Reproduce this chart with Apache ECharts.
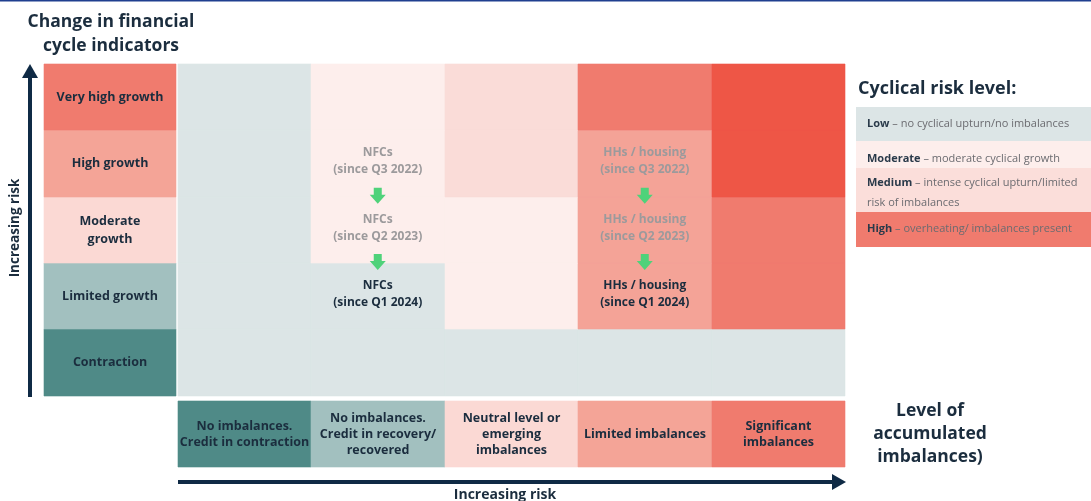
<!DOCTYPE html>
<html>
<head>
<meta charset="utf-8">
<style>html,body{margin:0;padding:0;background:#fff;}#chart{width:1091px;height:501px;}</style>
<script src="https://cdn.jsdelivr.net/npm/echarts@6/dist/echarts.min.js"></script>
</head>
<body>
<div id="chart"></div>
<script>
// ---- data ----
const imbalanceLevels = ['No imbalances.\nCredit in contraction', 'No imbalances.\nCredit in recovery/\nrecovered', 'Neutral level or\nemerging\nimbalances', 'Limited imbalances', 'Significant\nimbalances'];
const cycleLevels = ['Contraction', 'Limited growth', 'Moderate\ngrowth', 'High growth', 'Very high growth']; // bottom to top
// risk shade per cell: rows = cycleLevels (bottom->top), cols = imbalanceLevels
const riskContraction = [0, 0, 0, 0, 0];
const riskLimited     = [0, 0, 1, 3, 4];
const riskModerate    = [0, 1, 1, 3, 4];
const riskHigh        = [0, 1, 2, 3, 5];
const riskVeryHigh    = [0, 1, 2, 4, 5];
const riskRows = [riskContraction, riskLimited, riskModerate, riskHigh, riskVeryHigh];
const shadeColors = ['#dce5e6', '#fdeeec', '#fadcd8', '#f4a397', '#f07b6e', '#ee5646'];
const labelColors = ['#4f8a87', '#a2c0bf', '#fbd9d4', '#f4a497', '#f07b6e'];
const nfcPath = ['NFCs\n(since Q3 2022)', 'NFCs\n(since Q2 2023)', 'NFCs\n(since Q1 2024)'];
const nfcRows = [3, 2, 1];
const nfcCol = 1;
const hhPath = ['HHs / housing\n(since Q3 2022)', 'HHs / housing\n(since Q2 2023)', 'HHs / housing\n(since Q1 2024)'];
const hhRows = [3, 2, 1];
const hhCol = 3;
const riskLegendNames = ['Low', 'Moderate', 'Medium', 'High'];
const riskLegendDesc = ['no cyclical upturn/no imbalances', 'moderate cyclical growth', 'intense cyclical upturn/limited\nrisk of imbalances', 'overheating/ imbalances present'];
const riskLegendColors = ['#dce5e6', '#fdeeec', '#fbdeda', '#f07b6e'];

// ---- build ----
const FONT = '"Open Sans", sans-serif';
const DARK = '#1b2d3e';
const cellData = [];
riskRows.forEach((row, y) => row.forEach((lvl, x) => cellData.push([x, y, lvl])));
const rowLabelData = cycleLevels.map((t, i) => [-1, i, i]);
const colLabelData = imbalanceLevels.map((t, i) => [i, -1.075, i]);
const pathData = [];
nfcPath.forEach((t, i) => pathData.push([nfcCol + 0.5, nfcRows[i] + 0.5, i, 0]));
hhPath.forEach((t, i) => pathData.push([hhCol + 0.5, hhRows[i] + 0.5, i, 1]));
const arrowData = [];
for (let i = 0; i < 2; i++) {
  arrowData.push([nfcCol + 0.5, nfcRows[i]]);
  arrowData.push([hhCol + 0.5, hhRows[i]]);
}

function rectFrom(api, x0, y0, x1, y1) {
  const a = api.coord([x0, y1]);
  const b = api.coord([x1, y0]);
  const x = Math.round(a[0]), y = Math.round(a[1]);
  return { x: x, y: y, width: Math.round(b[0]) - x, height: Math.round(b[1]) - y };
}

const chart = echarts.init(document.getElementById('chart'), null, { renderer: 'canvas' });
const legendGraphics = [];
const legendTops = [107, 141, 168, 212];
const legendHeights = [34, 27, 44, 35];
const legendTextY = [124, 159, 193, 229];
riskLegendNames.forEach((n, i) => {
  legendGraphics.push({
    type: 'rect', left: 856, top: legendTops[i],
    shape: { width: 240, height: legendHeights[i] },
    style: { fill: riskLegendColors[i] }
  });
  legendGraphics.push({
    type: 'text', x: 867, y: legendTextY[i],
    style: {
      verticalAlign: 'middle',
      text: '{b|' + n + '}{d| – ' + riskLegendDesc[i].split('\n')[0] + '}' + (riskLegendDesc[i].includes('\n') ? '\n{d|' + riskLegendDesc[i].split('\n')[1] + '}' : ''),
      rich: {
        b: { fontFamily: FONT, fontWeight: 'bold', fontSize: 11, fill: '#2a3a4a', lineHeight: 20 },
        d: { fontFamily: FONT, fontSize: 11, fill: '#6b6b70', lineHeight: 20 }
      }
    }
  });
});

chart.setOption({
  animation: false,
  grid: { left: 44, right: 246, top: 64, bottom: 34 },
  xAxis: { type: 'value', min: -1, max: 5, show: false },
  yAxis: { type: 'value', min: -1.075, max: 5, show: false },
  graphic: [
    { type: 'rect', left: 0, top: 0, shape: { width: 1091, height: 1.5 }, style: { fill: '#1f3f8f' } },
    { type: 'text', x: 111, y: 34, style: { text: 'Change in financial\ncycle indicators', fontFamily: FONT, fontWeight: 'bold', fontSize: 17.5, lineHeight: 24, fill: DARK, align: 'center', verticalAlign: 'middle' } },
    // vertical arrow
    { type: 'rect', left: 28, top: 76, shape: { width: 4, height: 321 }, style: { fill: '#0f2a45' } },
    { type: 'polygon', shape: { points: [[30, 64], [22, 78], [38, 78]] }, style: { fill: '#0f2a45' } },
    { type: 'text', x: 15, y: 228, rotation: Math.PI / 2, style: { text: 'Increasing risk', fontFamily: FONT, fontWeight: 'bold', fontSize: 13.5, fill: DARK, align: 'center', verticalAlign: 'middle' } },
    // horizontal arrow
    { type: 'rect', left: 178, top: 480, shape: { width: 655, height: 4 }, style: { fill: '#0f2a45' } },
    { type: 'polygon', shape: { points: [[846, 482], [832, 474], [832, 490]] }, style: { fill: '#0f2a45' } },
    { type: 'text', x: 505, y: 495, style: { text: 'Increasing risk', fontFamily: FONT, fontWeight: 'bold', fontSize: 14, fill: DARK, align: 'center', verticalAlign: 'middle' } },
    // legend
    { type: 'text', x: 858, y: 89, style: { text: 'Cyclical risk level:', fontFamily: FONT, fontWeight: 'bold', fontSize: 18, fill: DARK, verticalAlign: 'middle' } },
    ...legendGraphics,
    { type: 'text', x: 930, y: 434, style: { text: 'Level of\naccumulated\nimbalances)', fontFamily: FONT, fontWeight: 'bold', fontSize: 17.5, lineHeight: 23, fill: DARK, align: 'center', verticalAlign: 'middle' } }
  ],
  series: [
    {
      type: 'custom', data: cellData, silent: true,
      renderItem: (params, api) => {
        const x = api.value(0), y = api.value(1), l = api.value(2);
        return { type: 'rect', shape: rectFrom(api, x, y, x + 1, y + 1), style: { fill: shadeColors[l], stroke: shadeColors[l], lineWidth: 0.6 } };
      }
    },
    {
      type: 'custom', data: rowLabelData, silent: true,
      renderItem: (params, api) => {
        const y = api.value(1), i = api.value(2);
        const r = rectFrom(api, -1, y, 0, y + 1);
        r.width -= 2;
        return { type: 'group', children: [
          { type: 'rect', shape: r, style: { fill: labelColors[i], stroke: labelColors[i], lineWidth: 0.6 } },
          { type: 'text', x: r.x + r.width / 2, y: r.y + r.height / 2, style: { text: cycleLevels[i], fontFamily: FONT, fontWeight: 'bold', fontSize: 12.5, lineHeight: 18, fill: DARK, align: 'center', verticalAlign: 'middle' } }
        ] };
      }
    },
    {
      type: 'custom', data: colLabelData, silent: true,
      renderItem: (params, api) => {
        const x = api.value(0), y = api.value(1), i = api.value(2);
        const r = rectFrom(api, x, y, x + 1, y + 1);
        return { type: 'group', children: [
          { type: 'rect', shape: r, style: { fill: labelColors[i], stroke: labelColors[i], lineWidth: 0.6 } },
          { type: 'text', x: r.x + r.width / 2, y: r.y + r.height / 2, style: { text: imbalanceLevels[i], fontFamily: FONT, fontWeight: 'bold', fontSize: 12.5, lineHeight: 16, fill: DARK, align: 'center', verticalAlign: 'middle' } }
        ] };
      }
    },
    {
      type: 'custom', data: pathData, silent: true,
      renderItem: (params, api) => {
        const p = api.coord([api.value(0), api.value(1)]);
        const i = api.value(2), k = api.value(3);
        const txt = (k === 0 ? nfcPath : hhPath)[i];
        const last = i === 2;
        return { type: 'text', x: p[0], y: p[1] - 2, style: { text: txt, fontFamily: FONT, fontWeight: 'bold', fontSize: 12, lineHeight: 17, fill: last ? '#1b2d3e' : '#9c9a9c', align: 'center', verticalAlign: 'middle' } };
      }
    },
    {
      type: 'custom', data: arrowData, silent: true,
      renderItem: (params, api) => {
        const p = api.coord([api.value(0), api.value(1)]);
        const cx = p[0], cy = p[1] - 1;
        return { type: 'polygon', shape: { points: [[cx - 4, cy - 8], [cx + 4, cy - 8], [cx + 4, cy - 1], [cx + 8, cy - 1], [cx, cy + 8], [cx - 8, cy - 1], [cx - 4, cy - 1]] }, style: { fill: '#4fd27a' } };
      }
    }
  ]
});
</script>
</body>
</html>
